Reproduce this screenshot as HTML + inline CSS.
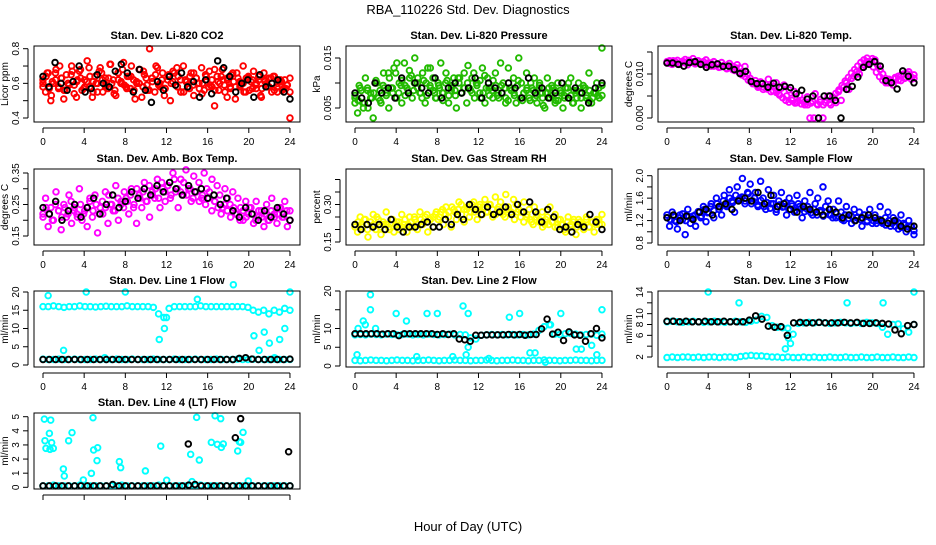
<!DOCTYPE html>
<html><head><meta charset="utf-8">
<style>
html,body{margin:0;padding:0;background:#fff;}
svg text{font-family:"Liberation Sans",Arial,sans-serif;fill:#000;}
</style></head>
<body>
<svg id="chart" width="936" height="540" viewBox="0 0 936 540" xmlns="http://www.w3.org/2000/svg">
<rect width="936" height="540" fill="#fff"/>
<text x="468" y="14" text-anchor="middle" font-size="13">RBA_110226  Std. Dev. Diagnostics</text>
<text x="468" y="531" text-anchor="middle" font-size="13">Hour of Day (UTC)</text>
</svg>
<script>
// ---------- data ----------
const hourTicks = [0,4,8,12,16,20,24];

const co2Vals = [0.62,0.55,0.66,0.50,0.60,0.68,0.57,0.63,0.51,0.65,0.59,0.70,0.54,0.61,0.67,0.56,0.62,0.73,0.58,0.52,0.64,0.60,0.69,0.55,0.63,0.57,0.71,0.62,0.53,0.66,0.60,0.72,0.58,0.64,0.70,0.56,0.61,0.68,0.52,0.65,0.59,0.80,0.63,0.55,0.69,0.60,0.66,0.57,0.62,0.50,0.67,0.59,0.64,0.55,0.70,0.61,0.58,0.66,0.53,0.63,0.60,0.69,0.56,0.62,0.67,0.58,0.47,0.64,0.60,0.68,0.55,0.62,0.58,0.66,0.51,0.63,0.59,0.70,0.55,0.64,0.61,0.67,0.57,0.62,0.52,0.66,0.60,0.63,0.55,0.64,0.58,0.61,0.56,0.62,0.59,0.40];
const co2ValsB = [0.60,0.64,0.57,0.61,0.66,0.58,0.63,0.56,0.60,0.65,0.59,0.62,0.68,0.57,0.61,0.64,0.55,0.60,0.67,0.62,0.58,0.63,0.60,0.56,0.66,0.61,0.59,0.64,0.57,0.62,0.60,0.68,0.58,0.63,0.56,0.61,0.65,0.59,0.62,0.57,0.64,0.60,0.66,0.58,0.62,0.55,0.61,0.64,0.59,0.63,0.57,0.60,0.65,0.58,0.62,0.56,0.61,0.64,0.59,0.63,0.57,0.61,0.66,0.58,0.60,0.63,0.56,0.62,0.59,0.64,0.57,0.61,0.58,0.63,0.56,0.60,0.62,0.57,0.59,0.55];
const co2ValsC = [0.58,0.66,0.53,0.62,0.70,0.56,0.60,0.67,0.52,0.63,0.58,0.69,0.61,0.55,0.66,0.59,0.71,0.54,0.62,0.68,0.57,0.64,0.51,0.60,0.67,0.56,0.63,0.70,0.58,0.53,0.65,0.61,0.69,0.55,0.62,0.57,0.66,0.60,0.54,0.64,0.59,0.68,0.56,0.62,0.52,0.65,0.58,0.61,0.55,0.63,0.57,0.60,0.53,0.62,0.58,0.64,0.55,0.61,0.57,0.63];
const co2Black = [0.64,0.58,0.72,0.60,0.56,0.61,0.70,0.55,0.57,0.65,0.60,0.58,0.67,0.71,0.66,0.55,0.68,0.56,0.49,0.61,0.56,0.64,0.59,0.66,0.58,0.61,0.52,0.62,0.54,0.73,0.69,0.64,0.55,0.60,0.62,0.52,0.65,0.58,0.60,0.62,0.55,0.51];

const presVals = [0.007,0.004,0.009,0.006,0.011,0.005,0.008,0.003,0.010,0.007,0.006,0.012,0.008,0.005,0.009,0.013,0.007,0.010,0.006,0.014,0.009,0.011,0.007,0.015,0.010,0.008,0.012,0.006,0.013,0.009,0.011,0.007,0.010,0.014,0.008,0.012,0.006,0.009,0.011,0.005,0.010,0.008,0.012,0.006,0.009,0.011,0.007,0.010,0.008,0.013,0.006,0.011,0.009,0.007,0.012,0.008,0.014,0.010,0.007,0.013,0.009,0.011,0.006,0.015,0.010,0.008,0.012,0.007,0.009,0.011,0.006,0.010,0.008,0.005,0.011,0.007,0.009,0.006,0.010,0.008,0.005,0.009,0.007,0.011,0.006,0.008,0.010,0.005,0.009,0.007,0.012,0.006,0.008,0.010,0.007,0.017];
const presValsB = [0.0075,0.0065,0.0085,0.0060,0.0090,0.0070,0.0080,0.0100,0.0085,0.0095,0.0075,0.0110,0.0090,0.0120,0.0080,0.0105,0.0095,0.0085,0.0115,0.0100,0.0090,0.0080,0.0105,0.0075,0.0095,0.0085,0.0070,0.0090,0.0080,0.0100,0.0075,0.0095,0.0085,0.0110,0.0080,0.0090,0.0100,0.0085,0.0120,0.0095,0.0105,0.0080,0.0090,0.0075,0.0085,0.0095,0.0070,0.0080,0.0090,0.0065,0.0085,0.0075,0.0095,0.0070,0.0080,0.0090,0.0065,0.0085,0.0075,0.0095,0.0070,0.0080,0.0090,0.0075,0.0085,0.0065,0.0080,0.0070,0.0090,0.0075,0.0085,0.0070,0.0080,0.0095,0.0075,0.0085,0.0070,0.0080,0.0090,0.0075];
const presValsC = [0.0060,0.0095,0.0050,0.0085,0.0070,0.0105,0.0065,0.0090,0.0120,0.0080,0.0140,0.0095,0.0075,0.0125,0.0085,0.0110,0.0070,0.0100,0.0130,0.0080,0.0095,0.0065,0.0105,0.0085,0.0075,0.0110,0.0090,0.0135,0.0080,0.0100,0.0070,0.0115,0.0090,0.0105,0.0075,0.0095,0.0060,0.0090,0.0080,0.0105,0.0065,0.0085,0.0100,0.0070,0.0090,0.0055,0.0080,0.0095,0.0065,0.0085,0.0075,0.0100,0.0060,0.0085,0.0070,0.0090,0.0065,0.0080,0.0075,0.0095];
const presBlack = [0.008,0.007,0.006,0.010,0.008,0.009,0.007,0.011,0.008,0.010,0.009,0.008,0.011,0.007,0.009,0.010,0.008,0.009,0.011,0.007,0.010,0.009,0.008,0.010,0.009,0.007,0.011,0.008,0.009,0.007,0.008,0.010,0.007,0.009,0.008,0.006,0.009,0.010];

const tempVals = [0.0125,0.0130,0.0122,0.0128,0.0131,0.0124,0.0127,0.0133,0.0121,0.0129,0.0135,0.0126,0.0130,0.0123,0.0128,0.0132,
0.0125,0.0118,0.0128,0.0122,0.0115,0.0126,0.0120,0.0112,0.0124,0.0118,0.0108,0.0121,0.0114,0.0105,0.0117,0.0100,
0.0090,0.0078,0.0085,0.0070,0.0082,0.0065,0.0076,0.0088,0.0060,0.0072,0.0080,0.0055,0.0068,0.0075,0.0050,0.0064,
0.0045,0.0060,0.0035,0.0052,0.0040,0.0030,0.0048,0.0000,0.0038,0.0055,0.0030,0.0042,0.0000,0.0035,0.0050,0.0030,
0.0045,0.0035,0.0060,0.0040,0.0070,0.0080,0.0065,0.0090,0.0095,0.0105,0.0100,0.0115,0.0120,0.0128,0.0125,0.0135,
0.0132,0.0120,0.0110,0.0100,0.0090,0.0080,0.0085,0.0075,0.0090,0.0095,0.0085,0.0100,0.0092,0.0105,0.0088,0.0098];
const tempValsB = [0.0128,0.0124,0.0130,0.0126,0.0122,0.0129,0.0125,0.0131,0.0127,0.0123,0.0129,0.0126,0.0122,0.0120,0.0125,0.0118,0.0122,0.0116,0.0119,0.0113,0.0117,0.0110,0.0114,0.0104,0.0098,0.0094,0.0086,0.0082,0.0078,0.0074,0.0080,0.0070,0.0066,0.0072,0.0062,0.0058,0.0052,0.0046,0.0040,0.0036,0.0040,0.0034,0.0038,0.0032,0.0036,0.0030,0.0034,0.0000,0.0032,0.0036,0.0030,0.0040,0.0034,0.0048,0.0056,0.0064,0.0074,0.0084,0.0092,0.0102,0.0110,0.0118,0.0126,0.0132,0.0136,0.0128,0.0116,0.0104,0.0094,0.0086,0.0080,0.0088,0.0082,0.0092,0.0086,0.0098,0.0090,0.0100,0.0094,0.0090];
const tempBlack = [0.0125,0.0125,0.0122,0.0118,0.0126,0.0128,0.0122,0.0115,0.0121,0.0123,0.0117,0.0118,0.0110,0.0101,0.0106,0.0083,0.0078,0.0078,0.0070,0.0079,0.0070,0.0072,0.0069,0.0055,0.0063,0.0043,0.0050,0.0000,0.0050,0.0050,0.0040,0.0000,0.0065,0.0072,0.0093,0.0115,0.0122,0.0128,0.0118,0.0085,0.0080,0.0066,0.0107,0.0095,0.0080];

const ambVals = [0.22,0.27,0.18,0.24,0.20,0.29,0.23,0.17,0.25,0.21,0.28,0.19,0.24,0.22,0.30,0.20,
0.23,0.18,0.26,0.21,0.28,0.16,0.24,0.22,0.29,0.19,0.25,0.23,0.31,0.20,0.26,0.24,
0.27,0.22,0.30,0.25,0.19,0.28,0.24,0.32,0.26,0.21,0.29,0.27,0.33,0.24,0.30,0.26,
0.31,0.27,0.35,0.29,0.24,0.33,0.28,0.36,0.30,0.26,0.34,0.29,0.32,0.27,0.35,0.30,
0.29,0.33,0.26,0.31,0.28,0.24,0.30,0.27,0.25,0.29,0.22,0.27,0.24,0.20,0.26,0.22,
0.24,0.19,0.26,0.21,0.23,0.18,0.25,0.20,0.27,0.22,0.19,0.24,0.21,0.26,0.18,0.23];
const ambValsB = [0.21,0.24,0.22,0.20,0.25,0.23,0.21,0.24,0.22,0.26,0.23,0.21,0.25,0.22,0.24,0.27,0.23,0.25,0.22,0.26,0.24,0.28,0.25,0.23,0.27,0.25,0.29,0.26,0.28,0.24,0.30,0.27,0.29,0.26,0.31,0.28,0.30,0.27,0.32,0.29,0.31,0.28,0.33,0.30,0.29,0.32,0.28,0.30,0.27,0.29,0.26,0.28,0.25,0.27,0.23,0.26,0.24,0.22,0.25,0.23,0.21,0.24,0.22,0.20,0.23,0.21,0.24,0.22,0.20,0.23,0.21,0.22,0.20,0.23,0.21,0.22,0.24,0.21,0.23,0.20];
const ambBlack = [0.24,0.22,0.26,0.20,0.23,0.25,0.21,0.24,0.27,0.22,0.25,0.28,0.24,0.26,0.29,0.27,0.30,0.28,0.31,0.29,0.32,0.30,0.28,0.31,0.29,0.30,0.27,0.28,0.25,0.27,0.23,0.21,0.24,0.22,0.20,0.23,0.21,0.24,0.22,0.20];

const rhVals = [0.22,0.19,0.25,0.21,0.24,0.17,0.23,0.26,0.20,0.24,0.18,0.22,0.27,0.21,0.24,0.19,
0.23,0.20,0.26,0.22,0.19,0.25,0.21,0.24,0.20,0.27,0.22,0.25,0.19,0.24,0.21,0.26,
0.24,0.27,0.22,0.29,0.25,0.21,0.28,0.24,0.31,0.26,0.23,0.28,0.25,0.30,0.27,0.24,
0.29,0.26,0.32,0.27,0.30,0.25,0.33,0.28,0.31,0.26,0.34,0.29,0.27,0.32,0.30,0.28,
0.27,0.31,0.25,0.28,0.23,0.29,0.26,0.24,0.27,0.22,0.25,0.29,0.23,0.26,0.21,0.24,
0.22,0.19,0.25,0.21,0.23,0.18,0.24,0.22,0.20,0.25,0.21,0.23,0.19,0.24,0.22,0.26];
const rhValsB = [0.21,0.23,0.22,0.24,0.20,0.23,0.22,0.25,0.21,0.23,0.22,0.20,0.24,0.22,0.23,0.21,0.24,0.22,0.23,0.25,0.22,0.24,0.23,0.26,0.24,0.25,0.27,0.25,0.28,0.26,0.27,0.29,0.27,0.28,0.30,0.28,0.29,0.27,0.31,0.28,0.30,0.29,0.27,0.30,0.28,0.26,0.29,0.27,0.25,0.28,0.26,0.24,0.27,0.25,0.23,0.26,0.24,0.22,0.25,0.23,0.21,0.24,0.22,0.23,0.21,0.24,0.22,0.20,0.23,0.22,0.24,0.21,0.23,0.22,0.24,0.21,0.23,0.22,0.24,0.22];
const rhBlack = [0.22,0.20,0.22,0.21,0.22,0.20,0.24,0.21,0.19,0.21,0.21,0.22,0.23,0.21,0.21,0.24,0.22,0.26,0.24,0.30,0.28,0.26,0.29,0.26,0.27,0.29,0.26,0.30,0.27,0.31,0.27,0.23,0.28,0.25,0.20,0.21,0.19,0.22,0.21,0.26,0.23,0.20];

const flowVals = [1.25,1.10,1.35,1.20,1.05,1.30,1.22,0.95,1.40,1.15,1.28,1.10,1.35,1.25,1.45,1.18,
1.35,1.50,1.25,1.60,1.40,1.30,1.65,1.45,1.75,1.55,1.35,1.80,1.60,1.95,1.50,1.70,
1.85,1.55,1.70,1.45,1.90,1.60,1.40,1.75,1.50,1.65,1.35,1.55,1.70,1.45,1.30,1.60,
1.50,1.35,1.65,1.45,1.25,1.55,1.40,1.70,1.30,1.50,1.60,1.35,1.80,1.45,1.55,1.30,
1.40,1.25,1.55,1.35,1.20,1.45,1.30,1.15,1.40,1.25,1.35,1.10,1.30,1.20,1.40,1.15,
1.30,1.20,1.45,1.15,1.25,1.35,1.10,1.25,1.20,1.05,1.30,1.15,1.00,1.20,1.10,0.95];
const flowValsB = [1.30,1.22,1.28,1.18,1.25,1.32,1.20,1.27,1.24,1.30,1.36,1.28,1.40,1.34,1.45,1.38,1.50,1.44,1.55,1.48,1.60,1.52,1.65,1.58,1.62,1.55,1.68,1.50,1.60,1.48,1.56,1.45,1.52,1.42,1.50,1.40,1.48,1.44,1.52,1.40,1.46,1.38,1.50,1.42,1.36,1.45,1.34,1.40,1.30,1.38,1.28,1.35,1.30,1.25,1.33,1.27,1.22,1.30,1.24,1.28,1.20,1.26,1.22,1.30,1.18,1.25,1.20,1.15,1.22,1.18,1.12,1.20,1.15,1.10,1.16,1.08,1.12,1.05,1.10,1.02];
const flowBlack = [1.25,1.30,1.20,1.28,1.22,1.35,1.40,1.30,1.45,1.50,1.40,1.55,1.60,1.55,1.70,1.50,1.65,1.45,1.50,1.40,1.35,1.45,1.40,1.35,1.30,1.40,1.35,1.25,1.30,1.20,1.25,1.30,1.25,1.20,1.15,1.20,1.10,1.05,1.10];

const line1High = [16,16,16.2,16,15.8,16,16,16.2,16,16,15.9,16,16.1,16,16,16,16.2,16,16,16,16,15.8,14,13,15.5,16,16,16,16,16,16.2,16,16,16,16,16,16,16,16,15.8,15,14.5,15,14,15,14.5,15.5,15];
const line1Low = [1.6,1.5,1.5,1.6,1.5,1.5,1.6,1.5,1.5,1.5,1.6,1.5,1.5,1.5,1.6,1.5,1.5,1.6,1.5,1.5,1.5,1.6,1.5,1.5,1.5,1.6,1.5,1.5,1.5,1.6,1.5,1.5,1.5,1.6,1.5,1.5,1.5,1.6,1.5,1.5,1.6,1.5,1.5,1.5,1.6,1.5,1.5,1.5];
const line1OutHours = [0.5,2,4.2,6,8,11.3,11.8,12,15,18.5,20.5,21,22,23,23.5,24,22.5,21.5];
const line1OutVals = [19,4,20,2,20,7,10,13,18,22,8,4,6,7,10,20,2,9];
const line1Black = [1.5,1.5,1.5,1.5,1.5,1.5,1.5,1.5,1.5,1.5,1.5,1.5,1.5,1.5,1.5,1.5,1.5,1.5,1.5,1.5,1.5,1.5,1.5,1.5,1.5,1.5,1.5,1.5,1.5,1.5,1.5,1.8,2.0,1.6,1.5,1.5,1.5,1.5,1.5,1.6];

const line2High = [8.3,8.4,8.3,8.5,8.4,8.3,8.5,8.4,8.3,8.4,8.5,8.3,8.4,8.3,8.5,8.4,8.3,8.4,8.5,8.3,8.4,8.3,7.5,7.2,8.2,8.3,8.4,8.3,8.4,8.3,8.4,8.3,8.4,8.3,8.5,9.5,10.5,11,8.5,8.4,8.6,8.7,8.5,8.3,8.4,8.5,8.2,8.5];
const line2Low = [1.5,1.4,1.5,1.6,1.5,1.5,1.4,1.5,1.6,1.5,1.5,1.4,1.5,1.5,1.6,1.5,1.4,1.5,1.5,1.6,1.5,1.5,1.4,1.5,1.5,1.6,1.5,1.4,1.5,1.5,1.6,1.5,1.5,1.4,1.5,1.5,1.6,1.5,1.5,1.4,1.5,1.5,1.6,1.5,1.5,1.4,1.5,1.5];
const line2OutHours = [1.5,1.5,0.3,0.2,0.8,1,2,4,5,6,7,8,9.5,10.5,11,11,10.8,13,15,16,17,17.5,19,20,21.5,22,23,23.5,24,18.5];
const line2OutVals = [19,15,10,3,12,11,10,14,12,2.5,14,14,2.5,16,14,5,3,2,13,14,3.5,3.5,11,14,4.5,4.5,5.5,3,15,1];
const line2Black = [8.6,8.6,8.6,8.6,8.6,8.5,8.6,8.6,8.1,8.6,8.6,8.6,8.6,8.6,8.6,8.4,8.6,8.4,8.6,7.2,7.0,6.6,8.2,8.2,8.3,8.3,8.3,8.3,8.4,8.3,8.4,8.2,8.4,8.4,9.9,12.5,8.5,9.0,6.8,9.1,8.3,8.2,6.6,8.6,10,7.5];

const line3High = [8.5,8.6,8.5,8.4,8.5,8.6,8.5,8.4,8.5,8.6,8.5,8.4,8.5,8.6,8.5,8.4,8.6,8.8,9.5,9.3,7.8,7.5,7.4,7.3,6.2,8.2,8.3,8.4,8.3,8.4,8.3,8.2,8.3,8.4,8.3,8.2,8.3,8.2,8.4,8.3,8.2,7.5,6.2,8.0,8.1,7.2,6.6,8.0];
const line3Low = [1.9,2.0,1.9,2.0,2.0,1.9,2.0,1.9,2.0,2.0,1.9,2.0,2.0,1.9,2.1,2.2,2.3,2.2,2.2,2.1,2.0,2.0,1.9,2.0,1.9,1.9,2.0,1.9,2.0,1.9,1.9,2.0,1.9,1.9,2.0,1.9,1.9,2.0,1.9,1.9,2.0,1.9,1.9,2.0,1.9,1.9,2.0,1.9];
const line3OutHours = [4,7,11.5,12,17.5,24,21,11.8];
const line3OutVals = [14,12,3.5,4.5,12,14,12,5.5];
const line3Black = [8.6,8.6,8.5,8.6,8.5,8.5,8.6,8.5,8.5,8.6,8.5,8.5,8.5,8.8,9.6,9.0,7.7,7.5,7.6,6.0,8.3,8.4,8.3,8.3,8.4,8.3,8.3,8.3,8.4,8.3,8.4,8.2,8.2,8.3,8.2,8.1,7.0,6.3,7.8,8.0];

const line4Low = [0.1,0.1,0.15,0.1,0.1,0.1,0.1,0.15,0.1,0.1,0.1,0.1,0.1,0.1,0.1,0.15,0.1,0.1,0.1,0.1,0.1,0.1,0.15,0.1,0.1,0.1,0.1,0.1,0.1,0.1,0.15,0.1,0.1,0.1,0.1,0.1,0.1,0.1,0.1,0.1,0.1,0.1,0.1,0.1,0.1,0.1,0.1,0.1];
const line4OutHours = [0.13,0.75,0.19,0.29,0.62,0.68,0.84,1.0,1.98,2.07,2.49,2.82,3.92,4.7,4.86,4.92,5.31,5.25,7.42,7.55,9.95,11.44,12.02,14.35,14.48,14.93,15.19,16.36,16.72,16.94,17.27,17.33,17.52,18.92,19.08,19.21,19.44,19.95];
const line4OutVals = [4.83,4.76,3.3,2.76,3.82,2.69,3.16,2.76,1.3,0.8,3.3,3.87,0.52,0.99,4.93,2.64,2.8,1.89,1.82,1.39,1.16,2.92,0.5,2.33,0.4,4.95,1.93,3.18,5.07,3.04,4.86,2.83,3.07,2.57,3.23,3.18,3.89,0.45];
const line4Black = [0.1,0.1,0.1,0.1,0.1,0.1,0.1,0.1,0.1,0.1,0.1,0.2,0.1,0.1,0.1,0.1,0.1,0.1,0.1,0.1,0.1,0.1,0.1,0.15,0.2,0.1,0.1,0.1,0.1,0.1,0.1,0.1,0.1,0.1,0.1,0.1,0.1,0.1,0.1,0.1];
const line4BlackOutHours = [14.12,18.69,19.21,23.87];
const line4BlackOutVals = [3.07,3.51,4.86,2.52];

// ---------- layout ----------
const NS = "http://www.w3.org/2000/svg";
const svg = document.getElementById('chart');
const colLeft = [34,346,658], rowTop = [46,169,291,413], boxW = 266, boxH = 76;

function mk(tag, attrs, parent){
  const e = document.createElementNS(NS, tag);
  for (const k in attrs) e.setAttribute(k, attrs[k]);
  (parent||svg).appendChild(e);
  return e;
}
function spread(arr){ return arr.map((v,i)=>[i*24/(arr.length-1), v]); }
function pairs(hs, vs){ return hs.map((h,i)=>[h, vs[i]]); }

const panels = [
 {key:'co2', title:'Stan. Dev. Li-820 CO2', ylab:'Licor ppm', c:0, r:0, a:[0.4,118,0.8,48.7], ticks:[0.4,0.5,0.6,0.7,0.8], labels:['0.4','','0.6','','0.8'], color:'#ff0000', series:[spread(co2Vals),spread(co2ValsB),spread(co2ValsC)], black:[spread(co2Black)]},
 {key:'pressure', title:'Stan. Dev. Li-820 Pressure', ylab:'kPa', c:1, r:0, a:[0.005,108,0.015,58], ticks:[0.005,0.010,0.015], labels:['0.005','','0.015'], color:'#22bb00', series:[spread(presVals),spread(presValsB),spread(presValsC)], black:[spread(presBlack)]},
 {key:'temp', title:'Stan. Dev. Li-820 Temp.', ylab:'degrees C', c:2, r:0, a:[0,118,0.010,74], ticks:[0,0.005,0.010,0.015], labels:['0.000','','0.010',''], color:'#ff00ff', series:[spread(tempVals),spread(tempValsB)], black:[spread(tempBlack)]},
 {key:'ambbox', title:'Stan. Dev. Amb. Box Temp.', ylab:'degrees C', c:0, r:1, a:[0.15,236,0.35,173], ticks:[0.15,0.20,0.25,0.30,0.35], labels:['0.15','','0.25','','0.35'], color:'#ff00ff', series:[spread(ambVals),spread(ambValsB)], black:[spread(ambBlack)]},
 {key:'rh', title:'Stan. Dev. Gas Stream RH', ylab:'percent', c:1, r:1, a:[0.15,242,0.30,204.5], ticks:[0.15,0.20,0.25,0.30,0.35,0.40], labels:['0.15','','','0.30','',''], color:'#ffff00', series:[spread(rhVals),spread(rhValsB)], black:[spread(rhBlack)]},
 {key:'sampleflow', title:'Stan. Dev. Sample Flow', ylab:'ml/min', c:2, r:1, a:[0.8,243,2.0,175.7], ticks:[0.8,1.0,1.2,1.4,1.6,1.8,2.0], labels:['0.8','','1.2','','1.6','','2.0'], color:'#0000ff', series:[spread(flowVals),spread(flowValsB)], black:[spread(flowBlack)]},
 {key:'line1', title:'Stan. Dev. Line 1 Flow', ylab:'ml/min', c:0, r:2, a:[0,365,20,292], ticks:[0,5,10,15,20], labels:['0','5','10','15','20'], color:'#00ffff', series:[spread(line1High),spread(line1Low),pairs(line1OutHours,line1OutVals)], black:[spread(line1Black)]},
 {key:'line2', title:'Stan. Dev. Line 2 Flow', ylab:'ml/min', c:1, r:2, a:[0,366,20,291], ticks:[0,5,10,15,20], labels:['0','5','10','','20'], color:'#00ffff', series:[spread(line2High),spread(line2Low),pairs(line2OutHours,line2OutVals)], black:[spread(line2Black)]},
 {key:'line3', title:'Stan. Dev. Line 3 Flow', ylab:'ml/min', c:2, r:2, a:[2,357,14,292], ticks:[2,4,6,8,10,12,14], labels:['2','','6','8','10','','14'], color:'#00ffff', series:[spread(line3High),spread(line3Low),pairs(line3OutHours,line3OutVals)], black:[spread(line3Black)]},
 {key:'line4', title:'Stan. Dev. Line 4 (LT) Flow', ylab:'ml/min', c:0, r:3, a:[0,487.3,5,416.7], ticks:[0,1,2,3,4,5], labels:['0','1','2','3','4','5'], color:'#00ffff', noXLabels:true, series:[spread(line4Low),pairs(line4OutHours,line4OutVals)], black:[spread(line4Black),pairs(line4BlackOutHours,line4BlackOutVals)]}
];

panels.forEach(p=>{
  const L = colLeft[p.c], T = rowTop[p.r];
  const g = mk('g', {});
  
  
  const xs = h => L + 9 + h * 10.29;
  const ys = v => p.a[1] + (v - p.a[0]) * (p.a[3] - p.a[1]) / (p.a[2] - p.a[0]);

  const t = mk('text', {x: L + boxW/2, y: T - 7, 'text-anchor':'middle', 'font-size':'11', 'font-weight':'bold'}, g);
  t.textContent = p.title;
  
  

  const pts = mk('g', {fill:'none', 'stroke-width':'1.9'}, g);
  
  
  p.series.forEach(s=>s.forEach(([h,v])=>{
    const c = mk('circle', {cx: xs(h), cy: ys(v), r: 2.8, stroke: p.color}, pts);
    
    
  }));
  p.black.forEach(s=>s.forEach(([h,v])=>{
    const c = mk('circle', {cx: xs(h), cy: ys(v), r: 2.8, stroke: '#000'}, pts);
    
    
  }));

  const box = mk('rect', {x: L, y: T, width: boxW, height: boxH, fill:'none', stroke:'#000', 'stroke-width':'1'}, g);
  
  

  const xa = mk('g', {}, g);
  
  
  mk('line', {x1: xs(hourTicks[0]), x2: xs(hourTicks[hourTicks.length-1]), y1: T+boxH+6, y2: T+boxH+6, stroke:'#000'}, xa);
  hourTicks.forEach(h=>{
    mk('line', {x1: xs(h), x2: xs(h), y1: T+boxH+6, y2: T+boxH+11, stroke:'#000'}, xa);
    if (!p.noXLabels){
      const tl = mk('text', {x: xs(h), y: T+boxH+23, 'text-anchor':'middle', 'font-size':'10'}, xa);
      tl.textContent = h;
      
      
    }
  });

  const ya = mk('g', {}, g);
  
  
  const ax = L - 6;
  mk('line', {x1: ax, x2: ax, y1: ys(p.ticks[0]), y2: ys(p.ticks[p.ticks.length-1]), stroke:'#000'}, ya);
  p.ticks.forEach((v,i)=>{
    mk('line', {x1: ax-5, x2: ax, y1: ys(v), y2: ys(v), stroke:'#000'}, ya);
    if (p.labels[i]){
      const yl = mk('text', {x: 0, y: 0, 'text-anchor':'middle', 'font-size':'10', transform:`translate(${ax-9},${ys(v)}) rotate(-90)`}, ya);
      yl.textContent = p.labels[i];
      
      
    }
  });
  const yt = mk('text', {x:0, y:0, 'text-anchor':'middle', 'font-size':'10', transform:`translate(${L-26},${T+boxH/2}) rotate(-90)`}, g);
  yt.textContent = p.ylab;
  
  
});
</script>
</body></html>
